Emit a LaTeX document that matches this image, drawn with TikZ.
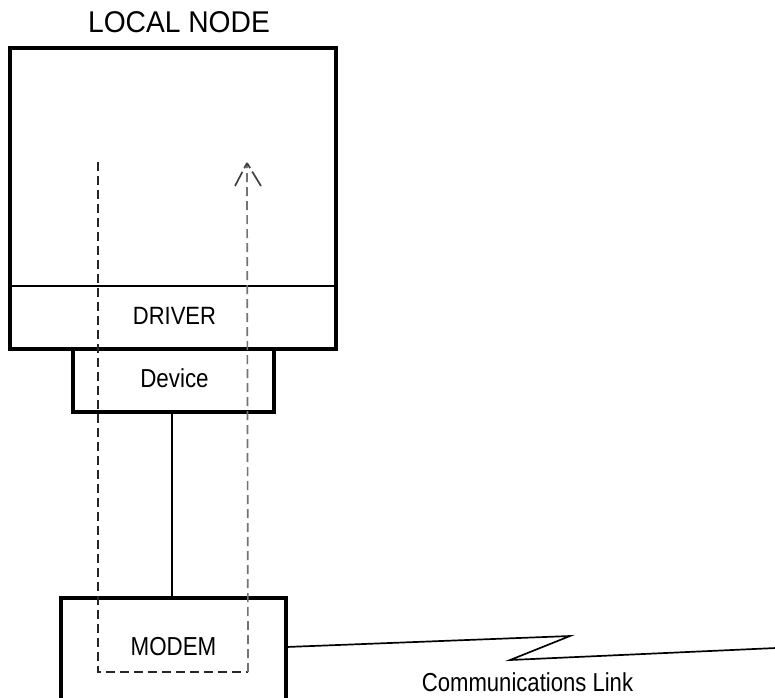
\documentclass[tikz,border=0pt]{standalone}
\usepackage{fontspec}
\setmainfont{Liberation Sans}
\usepackage{graphicx}
\begin{document}
\begin{tikzpicture}[x=1pt,y=-1pt,
  thickbox/.style={draw=black,line width=3.3pt,inner sep=0pt,outer sep=0pt,rectangle},
  lbl/.style={inner sep=0pt,font=\fontsize{26}{26}\selectfont},
  dashpath/.style={line width=1.7pt,dash pattern=on 9pt off 5pt},
  barb/.style={line width=1.7pt,black!75,dash pattern=on 6pt off 4pt on 30pt},
  thin/.style={line width=1.7pt}]
\clip (0,0) rectangle (775,697);
% boxes
\node[thickbox,minimum width=326pt,minimum height=301pt] (local) at (173,198.5) {};
\node[thickbox,minimum width=201pt,minimum height=63pt] (device) at (173.5,380.5) {};
\node[thickbox,fill=white,minimum width=225pt,minimum height=122pt] (modem) at (173.5,659) {};
\coordinate (divL) at (10,286);
\coordinate (divR) at (336,286);
\draw[thin] (divL) -- (divR);
% labels
\node[inner sep=0pt,font=\fontsize{30}{30}\selectfont] (title) at (179,22.5) {\scalebox{0.94}[1]{LOCAL NODE}};
\node[inner sep=0pt,font=\fontsize{25}{25}\selectfont] (driver) at (174.5,316) {\scalebox{0.88}[1]{DRIVER}};
\node[lbl] (devlbl) at (174.5,378) {\scalebox{0.86}[1]{Device}};
\node[lbl] (modlbl) at (173.5,646.5) {\scalebox{0.86}[1]{MODEM}};
\node[lbl] (linklbl) at (527.5,682.5) {\scalebox{0.85}[1]{Communications Link}};
% solid connector device -> modem
\draw[thin] (device.south -| 172,0) -- (modem.north -| 172,0);
% dashed loop path
\coordinate (lt) at (98,162);
\coordinate (lb) at (98,672);
\coordinate (rb) at (248,672);
\coordinate (rt) at (247,163);
\draw[dashpath,black!85] (lt) -- (lb) -- (rb);
\draw[dashpath,black!55] (rb) -- (rt);
\coordinate (barbL) at (235,186);
\coordinate (barbR) at (261,186);
\draw[barb] (rt) -- (barbL);
\draw[barb] (rt) -- (barbR);
% communications link
\coordinate (z1) at (570,636);
\coordinate (z2) at (510,660);
\coordinate (linkend) at (776,648);
\draw[thin] (modem.east |- 0,647) -- (z1) -- (z2) -- (linkend);
\end{tikzpicture}
\end{document}
